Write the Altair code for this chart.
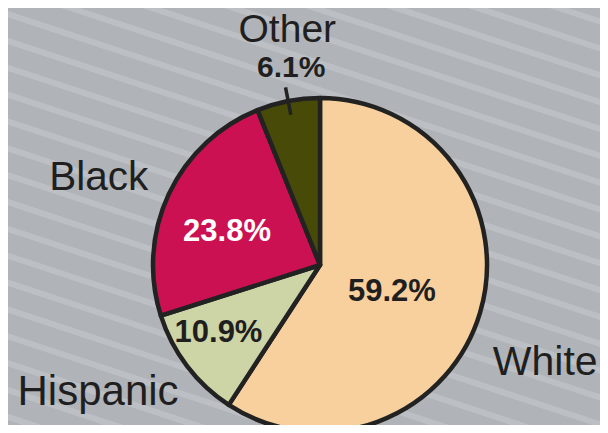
import math
import altair as alt
import pandas as pd

# ---- data ----
categories = ["White", "Hispanic", "Black", "Other"]
shares = [59.2, 10.9, 23.8, 6.1]
pct_labels = ["59.2%", "10.9%", "23.8%", "6.1%"]
slice_colors = ["#f8d09e", "#cdd5a7", "#cb1152", "#474b07"]

total = sum(shares)
mids = []
acc = 0.0
for s in shares:
    mids.append((acc + s / 2.0) / total * 2 * math.pi)
    acc += s

df = pd.DataFrame({
    "category": categories,
    "share": shares,
    "pct": pct_labels,
    "order": list(range(len(categories))),
    "mid": mids,
})

# ---- layout ----
W, H = 592, 417
CX, CY = 312, 257
R = 167
INK = "#1f1f1f"
BASE = "#b0b3b7"
STRIPE = "#bcbfc3"

# ---- striped background as a linear gradient ----
slope = 0.33
th = math.atan(slope)
sn, cs = math.sin(th), math.cos(th)
k = (W * sn + H * cs) / (W * W * sn * sn + H * H * cs * cs)
a = k * W * sn
b = k * H * cs
span = W * sn + H * cs
off = 8 * (cs - sn)
s0 = 11.5 * cs
pitch = 25.5
hw = 2.6
aa = 0.8

def t_of(s_page):
    return (s_page - off + W * sn) / span

stops = [alt.GradientStop(offset=0, color=BASE)]
last = 0.0
for n in range(-30, 40):
    c = s0 + n * pitch
    pts = [(c - hw - aa, BASE), (c - hw, STRIPE), (c + hw, STRIPE), (c + hw + aa, BASE)]
    ts = [(t_of(p), col) for p, col in pts]
    if ts[0][0] <= 0 or ts[-1][0] >= 1:
        continue
    for t, col in ts:
        if t >= last:
            stops.append(alt.GradientStop(offset=round(t, 5), color=col))
            last = t
stops.append(alt.GradientStop(offset=1, color=BASE))

grad = alt.LinearGradient(gradient="linear", stops=stops,
                          x1=1, y1=0, x2=1 - a, y2=b)

bg = alt.Chart(pd.DataFrame({"z": [0]})).mark_rect(fill=grad, strokeWidth=0).encode(
    x=alt.value(0), x2=alt.value(W), y=alt.value(0), y2=alt.value(H)
)

base = alt.Chart(df)

pie = base.mark_arc(outerRadius=R, stroke="#222222", strokeWidth=4.5,
                    strokeJoin="round").encode(
    theta=alt.Theta("share:Q", stack=True, scale=alt.Scale(nice=False)),
    color=alt.Color("category:N",
                    scale=alt.Scale(domain=categories, range=slice_colors),
                    legend=None),
    order=alt.Order("order:Q"),
    x=alt.value(CX),
    y=alt.value(CY),
)

leader = base.transform_filter(alt.datum.category == "Other").transform_calculate(
    lx1=f"{CX} + 153*sin(datum.mid)",
    ly1=f"{CY} - 153*cos(datum.mid)",
    lx2=f"{CX} + 181*sin(datum.mid)",
    ly2=f"{CY} - 181*cos(datum.mid)",
).mark_rule(color="#222222", strokeWidth=3.5).encode(
    x=alt.X("lx1:Q", scale=None, axis=None),
    y=alt.Y("ly1:Q", scale=None, axis=None),
    x2="lx2:Q",
    y2="ly2:Q",
)


def label(cat, field, r, dx, dy, size, weight, color):
    return base.transform_filter(alt.datum.category == cat).transform_calculate(
        px=f"{CX} + {r}*sin(datum.mid)",
        py=f"{CY} - {r}*cos(datum.mid)",
    ).mark_text(
        dx=dx, dy=dy, fontSize=size, fontWeight=weight, color=color,
        font="Liberation Sans", align="center", baseline="middle",
    ).encode(
        x=alt.X("px:Q", scale=None, axis=None),
        y=alt.Y("py:Q", scale=None, axis=None),
        text=alt.Text(f"{field}:N"),
    )


texts = [
    label("White", "pct", 75, 0, 6, 31, "bold", INK),
    label("White", "category", 235, 0, 31, 41, "normal", INK),
    label("Hispanic", "pct", 120, -6, -5, 31, "bold", INK),
    label("Hispanic", "category", 260, -15, -30, 42, "normal", INK),
    label("Black", "pct", 95, -7, 7, 31, "bold", "#ffffff"),
    label("Black", "category", 240, -4, 15, 40.5, "normal", INK),
    label("Other", "pct", 198, 9, -3, 30, "bold", INK),
    label("Other", "category", 240, 13, 1, 39, "normal", INK),
]

chart = alt.layer(bg, pie, leader, *texts).properties(
    width=W,
    height=H,
    autosize=alt.AutoSizeParams(type="none"),
    padding=0,
    background=BASE,
).configure_view(stroke=None)

chart.save("out.html", embed_options={"renderer": "svg", "actions": False})
